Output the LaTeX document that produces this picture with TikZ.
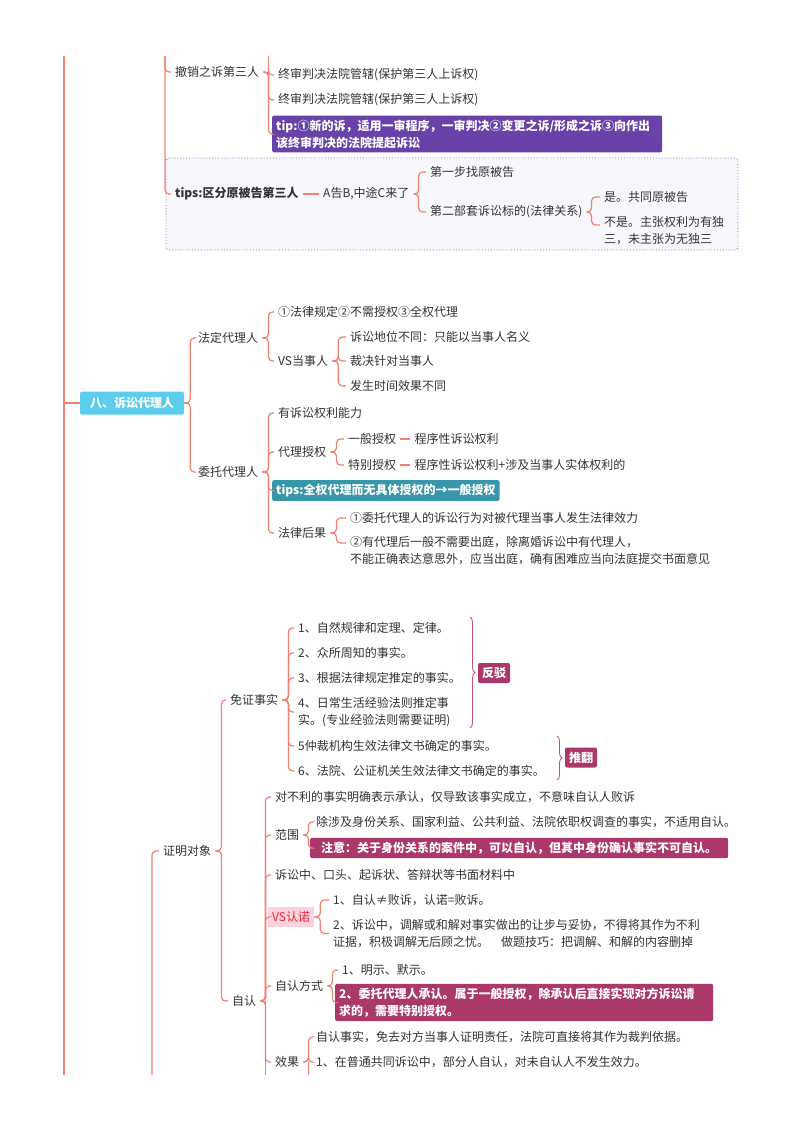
\documentclass[tikz,border=0pt]{standalone}
\usepackage{fontspec}
\setmainfont{Noto Sans CJK SC}
\usetikzlibrary{calc,positioning,decorations.pathreplacing}

\definecolor{linecol}{RGB}{241,128,112}
\definecolor{txtcol}{RGB}{51,51,51}
\definecolor{tippurple}{RGB}{104,66,168}
\definecolor{tipteal}{RGB}{56,150,170}
\definecolor{headcyan}{RGB}{92,205,236}
\definecolor{notered}{RGB}{170,56,106}
\definecolor{pinkbg}{RGB}{252,210,220}
\definecolor{vsred}{RGB}{228,40,60}
\definecolor{dotpurple}{RGB}{125,105,200}
\definecolor{framebg}{RGB}{248,248,252}
\definecolor{bracecol}{RGB}{196,80,125}

\tikzset{
  item/.style={anchor=west,inner xsep=4pt,inner ysep=2pt,text=txtcol,align=left,
    font=\fontsize{12}{17}\selectfont},
  tipbox/.style={item,fill=#1,text=white,rounded corners=2pt,inner sep=4pt,
    font=\fontsize{12}{17}\selectfont\bfseries},
  headbox/.style={fill=headcyan,text=white,rounded corners=1.5pt,minimum width=104pt,
    minimum height=23pt,font=\fontsize{12}{17}\selectfont\bfseries},
  labbox/.style={fill=notered,text=white,rounded corners=2pt,minimum width=32pt,
    minimum height=20pt,inner sep=2pt,font=\fontsize{12}{17}\selectfont\bfseries},
  vsbox/.style={item,fill=pinkbg,text=vsred,minimum height=20pt},
  tipframe/.style={draw=dotpurple,dotted,line width=0.9pt,fill=framebg,rounded corners=3pt,
    minimum width=572pt,minimum height=92pt,inner sep=0pt},
  link/.style={draw=linecol,line width=1.2pt,rounded corners=4pt},
  bracket/.style={draw=bracecol,line width=0.9pt,decorate,decoration={brace,amplitude=5pt}}
}

\begin{document}
\begin{tikzpicture}[x=1pt,y=-1pt]
\useasboundingbox[fill=white] (0,0) rectangle (800,1132);

\coordinate (main_top) at (64,56);
\coordinate (main_bot) at (64,1075);
\coordinate (sec_top) at (165,56);
\coordinate (zm_bot) at (152,1075);

% tips frame
\node[tipframe] (frame) at (452,204) {};

%% 撤销之诉第三人
\node[item] (chexiao) at (171,72) {撤销之诉第三人};
\node[item] (zs_a) at (274,75) {终审判决法院管辖(保护第三人上诉权)};
\node[item] (zs_b) at (274,100) {终审判决法院管辖(保护第三人上诉权)};
\node[tipbox=tippurple,text width=382pt] (tip_new) at (272,134) {tip:①新的诉，适用一审程序，一审判决②变更之诉/形成之诉③向作出\\该终审判决的法院提起诉讼};

\node[item,font=\fontsize{12}{17}\selectfont\bfseries] (qufen) at (171,194) {tips:区分原被告第三人};
\node[item] (agb) at (319,194) {A告B,中途C来了};
\node[item] (step_a) at (426,172) {第一步找原被告};
\node[item] (step_b) at (426,212) {第二部套诉讼标的(法律关系)};
\node[item] (shi) at (600,197) {是。共同原被告};
\node[item] (bushi) at (600,231) {不是。主张权利为有独\\三，未主张为无独三};

\draw[link] (sec_top) |- (chexiao.west);
\draw[link] (sec_top) |- (qufen.west);
\path (chexiao.east) ++(5,0) coordinate (ch_fork);
\coordinate (ch_top) at (ch_fork |- main_top);
\draw[link] (ch_top) -- (ch_fork);
\foreach \c in {zs_a,zs_b,tip_new}
  \draw[link] (chexiao.east) -- ++(5,0) |- (\c.west);
\draw[link] (qufen.east) -- (agb.west);
\foreach \c in {step_a,step_b}
  \draw[link] (agb.east) -- ++(5,0) |- (\c.west);
\draw[link] (step_b.east) -- ++(5,0) |- (shi.west);
\draw[link] (step_b.east) -- ++(5,0) |- ($(bushi.west)+(0,-6)$);

%% 八、诉讼代理人
\node[headbox] (sec8) at (132,403) {八、诉讼代理人};
\draw[link] (main_top) -- (main_bot);
\draw[link] (sec8.west) -- (sec8.west -| main_top);

\node[item] (fading) at (194,338) {法定代理人};
\node[item] (weituo) at (194,472) {委托代理人};
\foreach \c in {fading,weituo}
  \draw[link] (sec8.east) -- ++(6,0) |- (\c.west);

\node[item] (fd_a) at (274,312) {①法律规定②不需授权③全权代理};
\node[item] (vs_dsr) at (274,361) {VS当事人};
\foreach \c in {fd_a,vs_dsr}
  \draw[link] (fading.east) -- ++(6,0) |- (\c.west);
\node[item] (vs_a) at (346,337) {诉讼地位不同：只能以当事人名义};
\node[item] (vs_b) at (346,361) {裁决针对当事人};
\node[item] (vs_c) at (346,386) {发生时间效果不同};
\foreach \c in {vs_a,vs_b,vs_c}
  \draw[link] (vs_dsr.east) -- ++(6,0) |- (\c.west);

\node[item] (wt_a) at (274,413) {有诉讼权利能力};
\node[item] (dlsq) at (274,452) {代理授权};
\node[tipbox=tipteal] (tip_qq) at (272,490.5) {tips:全权代理而无具体授权的→一般授权};
\node[item] (flhg) at (274,533) {法律后果};
\foreach \c in {wt_a,dlsq,tip_qq,flhg}
  \draw[link] (weituo.east) -- ++(6,0) |- (\c.west);

\node[item] (yiban) at (344,439) {一般授权};
\node[item] (tebie) at (344,465) {特别授权};
\node[item,right=10pt of yiban] (cx_a) {程序性诉讼权利};
\node[item,right=10pt of tebie] (cx_b) {程序性诉讼权利+涉及当事人实体权利的};
\foreach \c in {yiban,tebie}
  \draw[link] (dlsq.east) -- ++(6,0) |- (\c.west);
\draw[link] (yiban.east) -- (cx_a.west);
\draw[link] (tebie.east) -- (cx_b.west);

\node[item] (hg_a) at (346,518) {①委托代理人的诉讼行为对被代理当事人发生法律效力};
\node[item] (hg_b) at (346,551) {②有代理后一般不需要出庭，除离婚诉讼中有代理人，\\不能正确表达意思外，应当出庭，确有困难应当向法庭提交书面意见};
\draw[link] (flhg.east) -- ++(6,0) |- (hg_a.west);
\draw[link] (flhg.east) -- ++(6,0) |- ($(hg_b.west)+(0,-8)$);

%% 证明对象
\node[item] (zmdx) at (159,851) {证明对象};
\draw[link] (zm_bot) |- (zmdx.west);
\node[item] (mzss) at (226,700) {免证事实};
\node[item] (ziren) at (228,1001) {自认};
\foreach \c in {mzss,ziren}
  \draw[link] (zmdx.east) -- ++(6,0) |- (\c.west);

\node[item] (mz_1) at (294,628) {1、自然规律和定理、定律。};
\node[item] (mz_2) at (294,653) {2、众所周知的事实。};
\node[item] (mz_3) at (294,678) {3、根据法律规定推定的事实。};
\node[item] (mz_4) at (294,712) {4、日常生活经验法则推定事\\实。(专业经验法则需要证明)};
\node[item] (mz_5) at (294,746) {5仲裁机构生效法律文书确定的事实。};
\node[item] (mz_6) at (294,771) {6、法院、公证机关生效法律文书确定的事实。};
\foreach \c in {mz_1,mz_2,mz_3,mz_4,mz_5,mz_6}
  \draw[link] (mzss.east) -- ++(6,0) |- (\c.west);

\coordinate (fb_top) at (470,617);
\coordinate (fb_bot) at (470,728);
\draw[bracket] (fb_top) -- (fb_bot);
\node[labbox] (fanbo) at (494,673) {反驳};
\coordinate (tf_top) at (557,736);
\coordinate (tf_bot) at (557,780);
\draw[bracket] (tf_top) -- (tf_bot);
\node[labbox] (tuifan) at (581,757.5) {推翻};

%% 自认
\node[item] (zr_a) at (271,797) {对不利的事实明确表示承认，仅导致该事实成立，不意味自认人败诉};
\node[item] (fanwei) at (271,835) {范围};
\node[item] (zr_c) at (271,875) {诉讼中、口头、起诉状、答辩状等书面材料中};
\node[vsbox] (vs_rn) at (268,917) {VS认诺};
\node[item] (zrfs) at (271,986) {自认方式};
\node[item] (xiaoguo) at (271,1062) {效果};
\foreach \c in {zr_a,fanwei,zr_c,vs_rn,zrfs,xiaoguo}
  \draw[link] (ziren.east) -- ++(5,0) |- (\c.west);
\path (ziren.east) ++(5,0) coordinate (zr_fork);
\coordinate (zr_bot) at (zr_fork |- main_bot);
\draw[link] (zr_fork) -- (zr_bot);

\node[item] (fw_a) at (312,822) {除涉及身份关系、国家利益、公共利益、法院依职权调查的事实，不适用自认。};
\node[tipbox=notered,minimum width=418pt] (fw_b) at (310,848) {注意：关于身份关系的案件中，可以自认，但其中身份确认事实不可自认。};
\foreach \c in {fw_a,fw_b}
  \draw[link] (fanwei.east) -- ++(5,0) |- (\c.west);

\node[item] (rn_a) at (329,900) {1、自认≠败诉，认诺=败诉。};
\node[item] (rn_b) at (329,933.5) {2、诉讼中，调解或和解对事实做出的让步与妥协，不得将其作为不利\\证据，积极调解无后顾之忧。\quad 做题技巧：把调解、和解的内容删掉};
\foreach \c in {rn_a,rn_b}
  \draw[link] (vs_rn.east) -- ++(6,0) |- (\c.west);

\node[item] (fs_a) at (338,970) {1、明示、默示。};
\node[tipbox=notered,text width=370pt] (fs_b) at (335,1002.5) {2、委托代理人承认。属于一般授权，除承认后直接实现对方诉讼请\\求的，需要特别授权。};
\foreach \c in {fs_a,fs_b}
  \draw[link] (zrfs.east) -- ++(5,0) |- (\c.west);

\node[item] (xg_a) at (312,1037) {自认事实，免去对方当事人证明责任，法院可直接将其作为裁判依据。};
\node[item] (xg_b) at (312,1062) {1、在普通共同诉讼中，部分人自认，对未自认人不发生效力。};
\foreach \c in {xg_a,xg_b}
  \draw[link] (xiaoguo.east) -- ++(5,0) |- (\c.west);
\path (xiaoguo.east) ++(5,0) coordinate (xg_fork);
\coordinate (xg_bot) at (xg_fork |- main_bot);
\draw[link] (xg_fork) -- (xg_bot);
\end{tikzpicture}
\end{document}
